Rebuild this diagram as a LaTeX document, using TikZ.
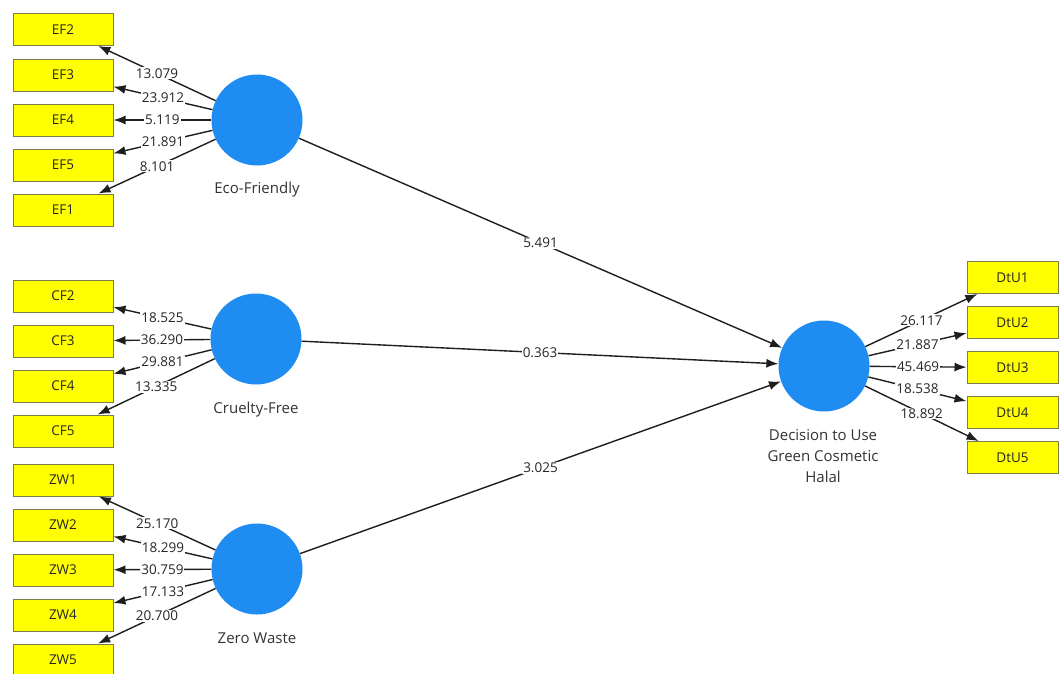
\documentclass[tikz,border=0pt]{standalone}
\usepackage{fontspec}
\setmainfont{Open Sans}
\usetikzlibrary{arrows.meta}
\definecolor{lvblue}{RGB}{30,140,240}
\definecolor{indyel}{RGB}{255,255,0}
\definecolor{indborder}{RGB}{125,125,75}
\definecolor{linecol}{RGB}{30,30,30}
\tikzset{
  ind/.style={draw=indborder, line width=1pt, fill=indyel, minimum width=100pt, minimum height=32pt, inner sep=0pt, font=\fontsize{13.5}{15}\selectfont, text=black!85},
  indr/.style={ind, minimum width=91pt},
  lv/.style={circle, fill=lvblue, minimum size=91pt, inner sep=0pt},
  lvlabel/.style={font=\fontsize{15}{21}\selectfont, align=center, text=black!80},
  con/.style={draw=linecol, line width=1.4pt, -{Latex[length=12pt,width=9pt]}},
  val/.style={fill=white, inner sep=1pt, font=\fontsize{13.5}{15}\selectfont, text=black!85}
}
\begin{document}
\begin{tikzpicture}[x=1pt,y=-1pt]
\useasboundingbox (0,0) rectangle (1059,673);
\fill[white] (0,0) rectangle (1059,673);
% indicators left
\node[ind] (EF2) at (63,29.5) {EF2};
\node[ind] (EF3) at (63,75) {EF3};
\node[ind] (EF4) at (63,120) {EF4};
\node[ind] (EF5) at (63,165) {EF5};
\node[ind] (EF1) at (63,210) {EF1};
\node[ind] (CF2) at (63,296) {CF2};
\node[ind] (CF3) at (63,341) {CF3};
\node[ind] (CF4) at (63,386) {CF4};
\node[ind] (CF5) at (63,431) {CF5};
\node[ind] (ZW1) at (63,480) {ZW1};
\node[ind] (ZW2) at (63,525) {ZW2};
\node[ind] (ZW3) at (63,570) {ZW3};
\node[ind] (ZW4) at (63,615) {ZW4};
\node[ind] (ZW5) at (63,660) {ZW5};
% indicators right
\node[indr] (DtU1) at (1012.5,277.5) {DtU1};
\node[indr] (DtU2) at (1012.5,322.5) {DtU2};
\node[indr] (DtU3) at (1012.5,367.5) {DtU3};
\node[indr] (DtU4) at (1012.5,412.5) {DtU4};
\node[indr] (DtU5) at (1012.5,457.5) {DtU5};
% latent variables
\node[lv] (EF) at (257,120) {};
\node[lv] (CF) at (256,339) {};
\node[lv] (ZW) at (257,569) {};
\node[lv] (DtU) at (824,366) {};
\node[lvlabel] (EFl) at (257,190) {Eco-Friendly};
\node[lvlabel] (CFl) at (256,410) {Cruelty-Free};
\node[lvlabel] (ZWl) at (257,638) {Zero Waste};
\node[lvlabel] (DtUl) at (823,456) {Decision to Use\\Green Cosmetic\\Halal};
% outer loadings
\draw[con] (EF) -- node[val]{13.079} (EF2);
\draw[con] (EF) -- node[val]{23.912} (EF3);
\draw[con] (EF) -- node[val]{5.119} (EF4);
\draw[con] (EF) -- node[val]{21.891} (EF5);
\draw[con] (EF) -- node[val]{8.101} (EF1);
\draw[con] (CF) -- node[val]{18.525} (CF2);
\draw[con] (CF) -- node[val]{36.290} (CF3);
\draw[con] (CF) -- node[val]{29.881} (CF4);
\draw[con] (CF) -- node[val]{13.335} (CF5);
\draw[con] (ZW) -- node[val]{25.170} (ZW1);
\draw[con] (ZW) -- node[val]{18.299} (ZW2);
\draw[con] (ZW) -- node[val]{30.759} (ZW3);
\draw[con] (ZW) -- node[val]{17.133} (ZW4);
\draw[con] (ZW) -- node[val]{20.700} (ZW5);
\draw[con] (DtU) -- node[val]{26.117} (DtU1);
\draw[con] (DtU) -- node[val]{21.887} (DtU2);
\draw[con] (DtU) -- node[val]{45.469} (DtU3);
\draw[con] (DtU) -- node[val]{18.538} (DtU4);
\draw[con] (DtU) -- node[val]{18.892} (DtU5);
% structural paths
\draw[con] (EF) -- node[val]{5.491} (DtU);
\draw[con] (CF) -- node[val]{0.363} (DtU);
\draw[con] (ZW) -- node[val]{3.025} (DtU);
\end{tikzpicture}
\end{document}
